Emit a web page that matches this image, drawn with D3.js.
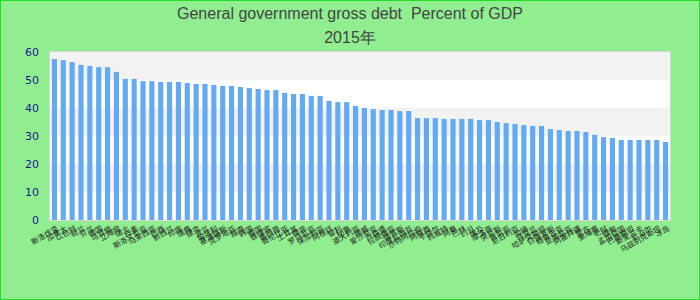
<!DOCTYPE html>
<html>
<head>
<meta charset="utf-8">
<script src="https://cdn.jsdelivr.net/npm/d3@7"></script>
<style>
html,body{margin:0;padding:0;background:#fff;}
svg{display:block;}
</style>
</head>
<body>
<svg id="chart" width="700" height="300"></svg>
<script>
const titleLines = ["General government gross debt  Percent of GDP", "2015年"];
const categories = ["斯洛伐克","加拿大","以色列","荷兰","芬兰","德国","马耳他","立陶宛","瑞士","丹麦","斯洛文尼亚","马来西亚","巴西","新西兰","印度","瑞典","捷克","波兰","匈牙利","塞浦路斯","克罗地亚","越南","韩国","泰国","菲律宾","墨西哥","哥伦比亚","土耳其","南非","罗马尼亚","保加利亚","阿根廷","智利","秘鲁","澳大利亚","挪威","爱沙尼亚","卢森堡","拉脱维亚","俄罗斯","印度尼西亚","沙特阿拉伯","阿联酋","卡塔尔","科威特","阿曼","巴林","约旦","埃及","摩洛哥","突尼斯","肯尼亚","尼日利亚","加纳","乌克兰","哈萨克斯坦","白俄罗斯","格鲁吉亚","亚美尼亚","阿塞拜疆","蒙古","柬埔寨","老挝","缅甸","孟加拉国","巴基斯坦","斯里兰卡","尼泊尔","乌兹别克斯坦","冰岛"];
const values = [57.5,57.1,56.4,55.4,55.0,54.6,54.6,52.9,50.4,50.4,49.6,49.6,49.3,49.3,49.3,48.9,48.6,48.6,48.2,47.9,47.9,47.5,47.1,46.8,46.4,46.4,45.4,45.0,45.0,44.3,44.3,42.5,42.1,42.1,40.7,40.0,39.6,39.3,39.3,38.9,38.9,36.4,36.4,36.4,36.1,36.1,36.1,36.1,35.7,35.7,35.0,34.6,34.3,33.9,33.6,33.6,32.5,32.1,31.8,31.8,31.4,30.4,29.6,29.3,28.6,28.6,28.6,28.6,28.6,27.9];
const yTicks = [0,10,20,30,40,50,60];

const svg = d3.select("#chart");
const W = 700, H = 300;
const m = {left:50, right:30, top:52, bottom:80};

svg.append("rect").attr("x",0.5).attr("y",0.5).attr("width",W-1).attr("height",H-1)
  .attr("fill","#90ee90").attr("stroke","#22dd22").attr("stroke-width",1);

const x = d3.scaleBand().domain(categories).range([m.left, W-m.right]).paddingInner(0.42).paddingOuter(0.21);
const y = d3.scaleLinear().domain([0,60]).range([H-m.bottom, m.top]);

// alternating bands
const g = svg.append("g");
for (let i=0;i<yTicks.length-1;i++){
  g.append("rect").attr("x",m.left).attr("width",W-m.right-m.left)
   .attr("y",y(yTicks[i+1])).attr("height",y(yTicks[i])-y(yTicks[i+1]))
   .attr("fill", i%2===0 ? "#ffffff" : "#f2f2f2");
}
g.append("rect").attr("x",m.left-0.5).attr("y",m.top-0.5).attr("width",W-m.right-m.left+1)
  .attr("height",H-m.bottom-m.top+1).attr("fill","none").attr("stroke","#d8d8d8").attr("stroke-width",1);

svg.append("g").selectAll("rect").data(values).join("rect")
  .attr("x",(d,i)=>x(categories[i])).attr("width",x.bandwidth())
  .attr("y",d=>y(d)).attr("height",d=>y(0)-y(d))
  .attr("fill","#63aaf3");

// y axis
const ya = svg.append("g").attr("transform",`translate(${m.left-11},0)`)
  .call(d3.axisLeft(y).tickValues(yTicks).tickSize(0).tickPadding(0));
ya.select(".domain").remove();
ya.selectAll("text").attr("fill","#1a1a8c").style("font-family","'DejaVu Sans', sans-serif").style("font-size","11px");

// x axis labels
const xa = svg.append("g").attr("transform",`translate(0,${H-m.bottom})`)
  .call(d3.axisBottom(x).tickSize(0).tickPadding(0));
xa.select(".domain").remove();
xa.selectAll("text")
  .attr("text-anchor","end")
  .attr("dy",0).attr("y",0)
  .attr("transform", d=>`translate(${x.bandwidth()/2+2},10) rotate(-30)`)
  .attr("fill","#222")
  .style("font-family","'Noto Sans CJK SC', sans-serif").style("font-size","7.5px");

// title
svg.append("g").selectAll("text").data(titleLines).join("text")
  .attr("x",W/2).attr("y",(d,i)=>19+i*24)
  .attr("text-anchor","middle").attr("fill","#444")
  .style("white-space","pre")
  .style("font-family","'Liberation Sans', Arial, sans-serif").style("font-size","16px")
  .text(d=>d);
</script>
</body>
</html>
